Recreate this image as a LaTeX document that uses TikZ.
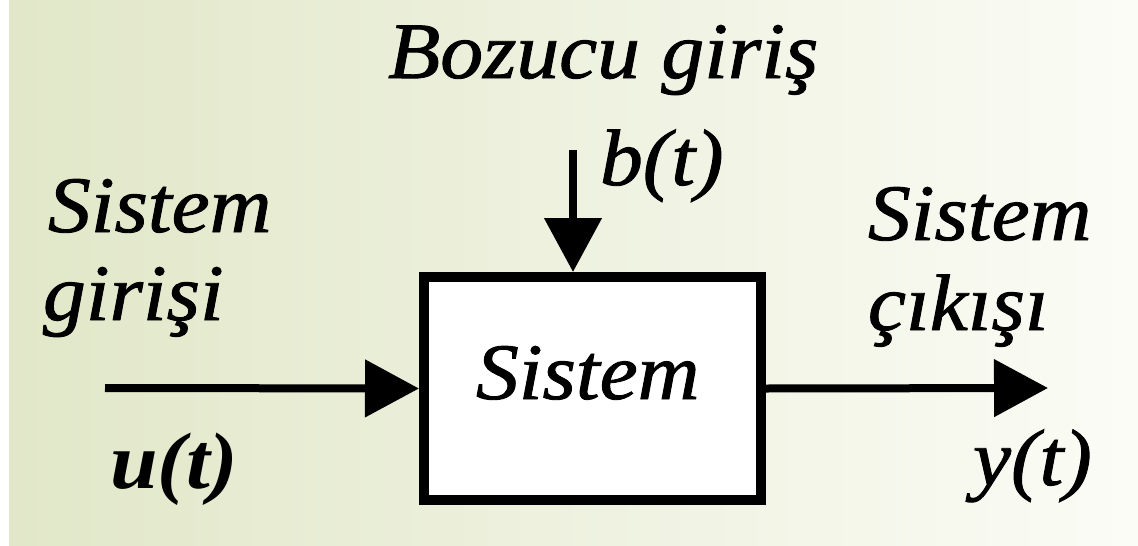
\documentclass[tikz,border=0pt]{standalone}
\usepackage{fontspec}
\setmainfont{Liberation Serif}[ItalicFeatures={FakeBold=1.1}]
\usetikzlibrary{arrows.meta}

\definecolor{bgleft}{RGB}{225,231,200}
\definecolor{bgmid}{RGB}{236,240,219}
\definecolor{bgright}{RGB}{251,252,246}

% wide italic labels
\newcommand\lbltext[1]{\scalebox{1.07}[1]{\itshape #1}}

\begin{document}
\begin{tikzpicture}[x=1pt,y=-1pt,
  lbl/.style={anchor=base west,inner sep=0pt,outer sep=0pt,
    font=\fontsize{80}{82}\selectfont},
  sysbox/.style={draw,line width=10pt,fill=white,minimum width=337pt,
    minimum height=223pt,inner sep=0pt},
  arr/.style={line width=8pt,-{Triangle[length=54pt,width=56pt]}},
]
\useasboundingbox (0,0) rectangle (1138,546);
\shade[left color=bgleft,middle color=bgmid,right color=bgright]
  (9,0) rectangle (1138,546);
\fill[white] (0,0) rectangle (9,546);

% the block
\node[sysbox] (box) at (592.5,388.5) {};
\node[lbl] (boxname) at (476,399) {\lbltext{Sistem}};

% signals
\coordinate (uin) at (105,388);
\coordinate (yout) at (1048,388);
\coordinate (bin) at (573,150);
\draw[arr] (uin) -- (box.west);
\draw[arr] (box.east) -- (yout);
\draw[arr] (bin) -- (bin |- box.north);

% labels
\node[lbl] (dist) at (388,78) {\lbltext{Bozucu giriş}};
\node[lbl] (bt) at (600,185) {\lbltext{b(t)}};
\node[lbl] (in1) at (48,232) {\lbltext{Sistem}};
\node[lbl] (in2) at (43,320) {\lbltext{girişi}};
\node[lbl] (ut) at (110,488) {\lbltext{\bfseries u(t)}};
\node[lbl] (out1) at (868,240) {\lbltext{Sistem}};
\node[lbl] (out2) at (868,330) {\lbltext{çıkışı}};
\node[lbl] (yt) at (973,485) {\lbltext{y(t)}};
\end{tikzpicture}
\end{document}
